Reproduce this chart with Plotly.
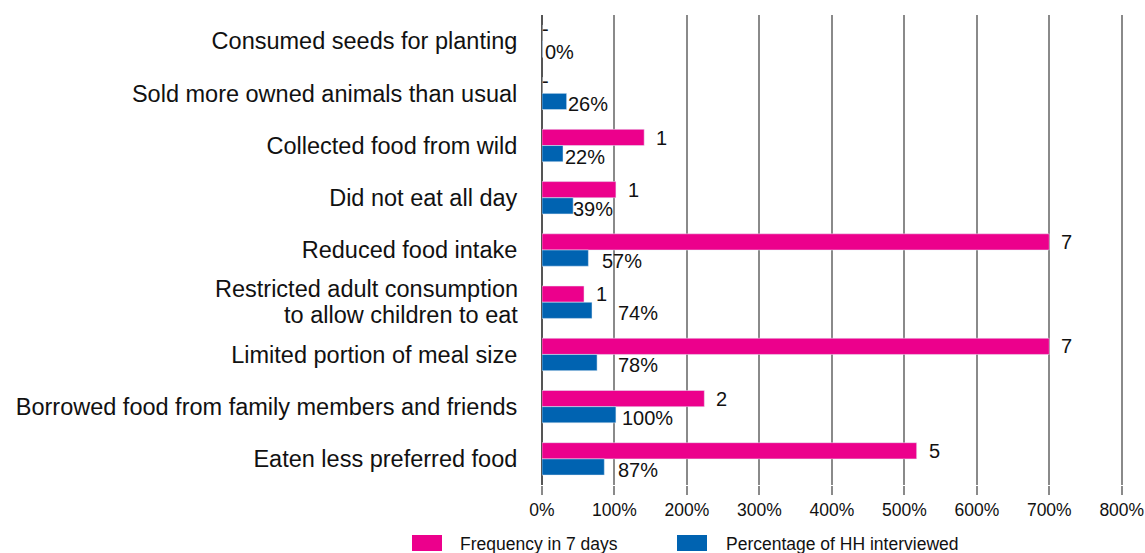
import plotly.graph_objects as go

categories = [
    "Consumed seeds for planting",
    "Sold more owned animals than usual",
    "Collected food from wild",
    "Did not eat all day",
    "Reduced food intake",
    "Restricted adult consumption\nto allow children to eat",
    "Limited portion of meal size",
    "Borrowed food from family members and friends",
    "Eaten less preferred food",
]
freq_values = [0, 0, 141, 102, 700, 58, 700, 224, 517]
freq_labels = ["-", "-", "1", "1", "7", "1", "7", "2", "5"]
pct_values = [0.6, 34, 29, 43, 64, 69, 76, 102, 86]
pct_labels = ["0%", "26%", "22%", "39%", "57%", "74%", "78%", "100%", "87%"]
# where each percentage label starts (label placement only)
pct_label_x = [2.5, 34, 30, 42, 81, 104, 104, 109, 104]
tick_vals = [0, 100, 200, 300, 400, 500, 600, 700, 800]

PINK = "#EC008C"
BLUE = "#0063B1"
FONT = "Liberation Sans, Arial, Helvetica, sans-serif"
INK = "#111111"

cat_keys = [c.replace("\n", " ") for c in categories]
tick_text = [c if "\n" not in c else "" for c in categories]

fig = go.Figure()
fig.add_trace(go.Bar(y=cat_keys, x=freq_values, orientation="h", marker_color=PINK,
                     name="Frequency in 7 days", offsetgroup="a", showlegend=False))
fig.add_trace(go.Bar(y=cat_keys, x=pct_values, orientation="h", marker_color=BLUE,
                     name="Percentage of HH interviewed", offsetgroup="b", showlegend=False))

annotations = []
for c, v, t in zip(cat_keys, freq_values, freq_labels):
    annotations.append(dict(x=v, y=c, text=t, xref="x", yref="y", showarrow=False,
                            xanchor="left", yanchor="middle",
                            xshift=10 if v > 0 else -2, yshift=8 if v > 0 else 12,
                            font=dict(size=20, color=INK, family=FONT)))
for c, lx, t in zip(cat_keys, pct_label_x, pct_labels):
    annotations.append(dict(x=lx, y=c, text=t, xref="x", yref="y", showarrow=False,
                            xanchor="left", yanchor="middle", xshift=-1, yshift=-11,
                            font=dict(size=20, color=INK, family=FONT)))

# two-line category label with tight line spacing
for c, lab in zip(cat_keys, categories):
    if "\n" in lab:
        l1, l2 = lab.split("\n")
        for line, dy in ((l1, 13.5), (l2, -12.5)):
            annotations.append(dict(x=0, y=c, xref="paper", yref="y", text=line,
                                    showarrow=False, xanchor="right", yanchor="middle",
                                    xshift=-22, yshift=dy,
                                    font=dict(size=23.5, color=INK, family=FONT)))

# manual legend
XMAX = 810.0
L, R, T, B = 542, 16, 15, 68
PW = 1145.0 - L - R
PH = 553.0 - T - B
def px(x):
    return (x - L) / PW
def py(y):
    return -(y - (553 - B)) / PH
shapes = [
    dict(type="rect", xref="paper", yref="paper", x0=px(412), x1=px(442),
         y0=py(551), y1=py(535), fillcolor=PINK, line_width=0),
    dict(type="rect", xref="paper", yref="paper", x0=px(677), x1=px(707),
         y0=py(551), y1=py(535), fillcolor=BLUE, line_width=0),
]
annotations.append(dict(x=px(458), y=py(544), xref="paper", yref="paper",
                        text="Frequency in 7 days", showarrow=False, xanchor="left", yanchor="middle",
                        font=dict(size=17.5, color=INK, family=FONT)))
annotations.append(dict(x=px(724), y=py(544), xref="paper", yref="paper",
                        text="Percentage of HH interviewed", showarrow=False, xanchor="left",
                        yanchor="middle", font=dict(size=17.5, color=INK, family=FONT)))

fig.update_layout(
    width=1145, height=553,
    margin=dict(l=L, r=R, t=T, b=B, autoexpand=False),
    paper_bgcolor="white", plot_bgcolor="white",
    barmode="group", bargap=0.38, bargroupgap=0,
    font=dict(family=FONT, color=INK),
    annotations=annotations, shapes=shapes,
)
fig.update_xaxes(range=[0, XMAX], tickvals=tick_vals, ticktext=[f"{v}%" for v in tick_vals],
                 showgrid=True, gridcolor="#8a8a8a", gridwidth=1.5,
                 ticks="outside", ticklen=9, tickcolor="#8a8a8a", tickwidth=1.5,
                 ticklabeloverflow="allow", automargin=False,
                 zeroline=True, zerolinecolor="#555", zerolinewidth=1.5,
                 tickfont=dict(size=17.5, color=INK, family=FONT), showline=False)
fig.update_yaxes(autorange="reversed", tickvals=cat_keys, ticktext=tick_text,
                 tickfont=dict(size=23.5, color=INK, family=FONT), automargin=False,
                 ticks="outside", ticklen=19, tickcolor="rgba(0,0,0,0)", showgrid=False,
                 showline=False)

fig.write_html("out.html")
